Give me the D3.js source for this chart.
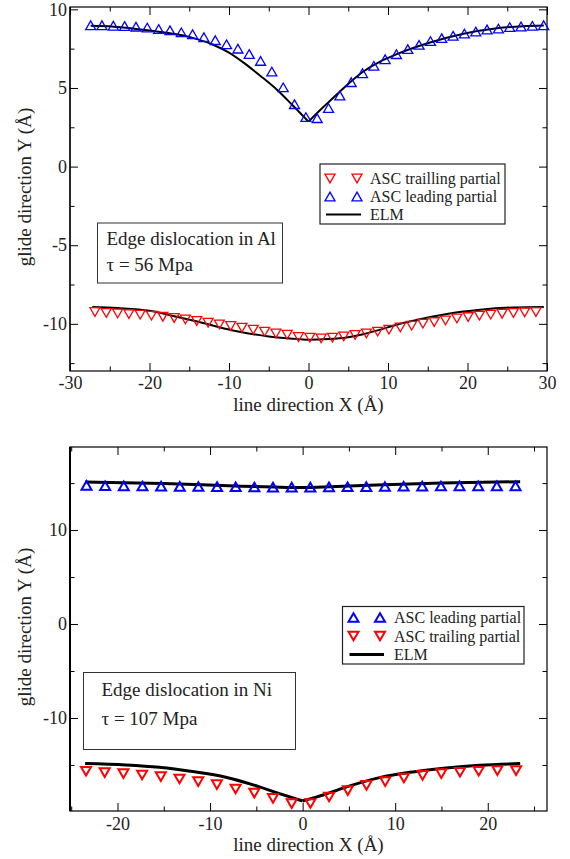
<!DOCTYPE html>
<html>
<head>
<meta charset="utf-8">
<script src="https://cdn.jsdelivr.net/npm/d3@7"></script>
<style>
body { margin: 0; background: #fff; }
svg text { font-family: "Liberation Serif", "Times New Roman", serif; fill: #222; }
</style>
</head>
<body>
<svg id="chart" width="570" height="859"></svg>
<script>
/*
data
*/
// Al, tau = 56 Mpa
var al_lead_x = [-27.4, -25.98, -24.55, -23.13, -21.7, -20.28, -18.85, -17.43, -16.0, -14.58, -13.16, -11.73, -10.31, -8.88, -7.46, -6.03, -4.61, -3.18, -1.76, -0.33, 1.09, 2.52, 3.94, 5.37, 6.79, 8.22, 9.64, 11.06, 12.49, 13.91, 15.34, 16.76, 18.19, 19.61, 21.04, 22.46, 23.89, 25.31, 26.73, 28.16, 29.58];
var al_lead_y = [8.99, 8.99, 8.96, 8.94, 8.90, 8.84, 8.75, 8.67, 8.54, 8.42, 8.23, 8.04, 7.78, 7.50, 7.16, 6.72, 6.04, 5.04, 3.97, 3.15, 3.08, 3.72, 4.52, 5.37, 5.94, 6.41, 6.83, 7.15, 7.47, 7.74, 7.98, 8.17, 8.32, 8.46, 8.59, 8.72, 8.78, 8.87, 8.91, 8.95, 8.99];
var al_trail_x = [-26.86, -25.44, -24.01, -22.59, -21.17, -19.75, -18.32, -16.9, -15.48, -14.06, -12.63, -11.21, -9.79, -8.37, -6.95, -5.52, -4.1, -2.68, -1.26, 0.17, 1.59, 3.01, 4.43, 5.86, 7.28, 8.7, 10.12, 11.55, 12.97, 14.39, 15.81, 17.23, 18.66, 20.08, 21.5, 22.92, 24.35, 25.77, 27.19, 28.61];
var al_trail_y = [-9.25, -9.31, -9.34, -9.38, -9.42, -9.48, -9.55, -9.63, -9.72, -9.82, -9.93, -10.04, -10.14, -10.25, -10.37, -10.5, -10.61, -10.69, -10.84, -10.88, -10.93, -10.88, -10.8, -10.71, -10.61, -10.5, -10.37, -10.23, -10.12, -9.99, -9.89, -9.78, -9.66, -9.57, -9.48, -9.42, -9.36, -9.31, -9.27, -9.25];
var al_elm_lead_x = [-27.4, -24.5, -20, -15, -12, -10, -8, -6, -4, -2, 0, 1.9, 3.9, 6.9, 9, 11.1, 15.3, 19.5, 23.7, 27, 29.6];
var al_elm_lead_y = [8.95, 8.9, 8.65, 8.25, 7.75, 7.25, 6.55, 5.75, 4.9, 3.9, 2.86, 3.8, 4.75, 6.05, 6.68, 7.15, 7.89, 8.45, 8.8, 8.93, 8.97];
var al_elm_trail_x = [-27.2, -24, -20, -17, -14, -9.5, -5, -2.3, 0, 2.5, 4.8, 7, 9, 11, 13.2, 15.5, 17.4, 19.5, 21.6, 25.8, 29.6];
var al_elm_trail_y = [-8.93, -9.0, -9.17, -9.5, -9.85, -10.42, -10.8, -10.93, -11.01, -10.97, -10.87, -10.65, -10.37, -10.07, -9.8, -9.55, -9.38, -9.22, -9.1, -8.96, -8.93];
var al_xticks = [-30, -20, -10, 0, 10, 20, 30];
var al_xminor = [-25, -15, -5, 5, 15, 25];
var al_yticks = [-10, -5, 0, 5, 10];
var al_yminor = [-12.5, -7.5, -2.5, 2.5, 7.5];

// Ni, tau = 107 Mpa
var ni_lead_x = [-23.35, -21.33, -19.32, -17.3, -15.29, -13.27, -11.26, -9.24, -7.23, -5.21, -3.2, -1.18, 0.83, 2.85, 4.86, 6.88, 8.89, 10.91, 12.92, 14.94, 16.95, 18.97, 20.98, 23.0];
var ni_lead_y = [14.75, 14.72, 14.71, 14.69, 14.68, 14.65, 14.64, 14.62, 14.61, 14.58, 14.57, 14.57, 14.57, 14.59, 14.61, 14.63, 14.64, 14.66, 14.68, 14.69, 14.7, 14.71, 14.71, 14.71];
var ni_trail_x = [-23.4, -21.38, -19.36, -17.34, -15.32, -13.3, -11.28, -9.26, -7.24, -5.22, -3.2, -1.18, 0.84, 2.86, 4.88, 6.9, 8.92, 10.94, 12.96, 14.98, 17.0, 19.02, 21.04, 23.06];
var ni_trail_y = [-15.67, -15.81, -15.92, -16.07, -16.24, -16.49, -16.77, -17.09, -17.56, -18.0, -18.55, -19.12, -19.1, -18.41, -17.74, -17.18, -16.77, -16.39, -16.1, -15.92, -15.78, -15.67, -15.6, -15.6];
var ni_elm_lead_x = [-23.5, -15, -8, -3, 0, 3, 8, 15, 23.5];
var ni_elm_lead_y = [15.12, 14.95, 14.72, 14.57, 14.52, 14.6, 14.8, 15.0, 15.15];
var ni_elm_trail_x = [-23.5, -19.1, -15.5, -11.9, -8.3, -4.75, -2.5, 0, 2.5, 4.75, 8.3, 11.9, 15.5, 19.1, 23.5];
var ni_elm_trail_y = [-14.85, -15.0, -15.25, -15.7, -16.3, -17.3, -18.05, -18.84, -18.1, -17.34, -16.35, -15.74, -15.32, -15.03, -14.85];
var ni_xticks = [-20, -10, 0, 10, 20];
var ni_xminor = [-25, -15, -5, 5, 15, 25];
var ni_yticks = [-10, 0, 10];
var ni_yminor = [-15, -5, 5, 15];

var svg = d3.select("#chart");
var RED = "#ff0000", BLUE = "#0000ff";

function zip(xs, ys){
	var out = [];
	for (var i = 0; i < xs.length; i++){
		out.push([xs[i], ys[i]]);
	}
	return out;
}

// triangle marker, bbox centred on the point
function tri(cx, cy, w, up){
	var hw = w/2, hh = w*0.866/2;
	if (up){
		return "M"+cx+","+(cy-hh)+"L"+(cx+hw)+","+(cy+hh)+"L"+(cx-hw)+","+(cy+hh)+"Z";
	}
	return "M"+cx+","+(cy+hh)+"L"+(cx+hw)+","+(cy-hh)+"L"+(cx-hw)+","+(cy-hh)+"Z";
}

function draw_panel(p){
	var g = svg.append("g");
	var x = d3.scaleLinear().domain(p.xdom).range([p.left, p.right]);
	var y = d3.scaleLinear().domain(p.ydom).range([p.bottom, p.top]);
	var fmt = function(d){ return String(d); };

	function style_axis(sel){
		sel.select(".domain").remove();
		sel.selectAll("line").attr("stroke", "#000").attr("stroke-width", 1);
		sel.selectAll("text").attr("font-size", 18).attr("fill", "#222");
		sel.attr("font-family", null).attr("font-size", null);
	}

	// major + minor ticks, all four sides, pointing inward
	g.append("g").attr("transform", "translate(0," + p.bottom + ")")
		.call(d3.axisBottom(x).tickValues(p.xticks).tickSize(-8).tickPadding(p.xpad).tickFormat(fmt)).call(style_axis);
	g.append("g").attr("transform", "translate(0," + p.bottom + ")")
		.call(d3.axisBottom(x).tickValues(p.xminor).tickSize(-4.5).tickFormat("")).call(style_axis);
	g.append("g").attr("transform", "translate(0," + p.top + ")")
		.call(d3.axisTop(x).tickValues(p.xticks).tickSize(-8).tickFormat("")).call(style_axis);
	g.append("g").attr("transform", "translate(0," + p.top + ")")
		.call(d3.axisTop(x).tickValues(p.xminor).tickSize(-4.5).tickFormat("")).call(style_axis);
	g.append("g").attr("transform", "translate(" + p.left + ",0)")
		.call(d3.axisLeft(y).tickValues(p.yticks).tickSize(-8).tickPadding(3).tickFormat(fmt)).call(style_axis);
	g.append("g").attr("transform", "translate(" + p.left + ",0)")
		.call(d3.axisLeft(y).tickValues(p.yminor).tickSize(-4.5).tickFormat("")).call(style_axis);
	g.append("g").attr("transform", "translate(" + p.right + ",0)")
		.call(d3.axisRight(y).tickValues(p.yticks).tickSize(-8).tickFormat("")).call(style_axis);
	g.append("g").attr("transform", "translate(" + p.right + ",0)")
		.call(d3.axisRight(y).tickValues(p.yminor).tickSize(-4.5).tickFormat("")).call(style_axis);

	// frame
	g.append("rect")
		.attr("x", p.left).attr("y", p.top)
		.attr("width", p.right - p.left).attr("height", p.bottom - p.top)
		.attr("fill", "none").attr("stroke", "#000").attr("stroke-width", 1.2);
	g.append("line")
		.attr("x1", p.left).attr("x2", p.left).attr("y1", p.top).attr("y2", p.bottom)
		.attr("stroke", "#000").attr("stroke-width", p.leftw);

	// axis titles
	g.append("text").attr("x", (p.left + p.right)/2).attr("y", p.xtitle_y)
		.attr("text-anchor", "middle").attr("font-size", 19)
		.text("line direction X (\u00c5)");
	g.append("text")
		.attr("transform", "translate(31," + ((p.top + p.bottom)/2 - 2) + ") rotate(-90)")
		.attr("text-anchor", "middle").attr("font-size", 19)
		.text("glide direction Y (\u00c5)");

	// ELM curves
	var line = d3.line()
		.x(function(d){ return x(d[0]); })
		.y(function(d){ return y(d[1]); })
		.curve(d3.curveMonotoneX);
	p.elm.forEach(function(c){
		var pts = zip(c.x, c.y);
		var parts = [pts];
		if (c.kink){
			// sharp V at the minimum
			var k = d3.minIndex(pts, function(d){ return d[1]; });
			parts = [pts.slice(0, k + 1), pts.slice(k)];
		}
		parts.forEach(function(part){
			g.append("path").datum(part)
				.attr("d", line)
				.attr("fill", "none").attr("stroke", "#000")
				.attr("stroke-width", p.elmw).attr("stroke-linejoin", "round");
		});
	});

	// ASC markers
	p.series.forEach(function(s){
		g.append("g").selectAll("path")
			.data(zip(s.x, s.y))
			.enter().append("path")
			.attr("d", function(d){ return tri(x(d[0]), y(d[1]), p.msize, s.up); })
			.attr("fill", "none").attr("stroke", s.color).attr("stroke-width", p.mstroke);
	});

	// legend
	var lg = p.legend;
	g.append("rect").attr("x", lg.x).attr("y", lg.y).attr("width", lg.w).attr("height", lg.h)
		.attr("fill", "#fff").attr("stroke", "#222").attr("stroke-width", 1.2);
	lg.rows.forEach(function(r, i){
		var cy = lg.y + lg.first + i*lg.step;
		if (r.kind == "line"){
			g.append("line").attr("x1", lg.s1 - 4).attr("x2", lg.s2 + 4).attr("y1", cy).attr("y2", cy)
				.attr("stroke", "#000").attr("stroke-width", p.elmw);
		}else{
			[lg.s1, lg.s2].forEach(function(sx){
				g.append("path").attr("d", tri(sx, cy, p.msize, r.up))
					.attr("fill", "none").attr("stroke", r.color).attr("stroke-width", p.mstroke);
			});
		}
		g.append("text").attr("x", lg.tx).attr("y", cy + 5.5).attr("font-size", 16).text(r.label);
	});

	// note box
	var nb = p.note;
	g.append("rect").attr("x", nb.x).attr("y", nb.y).attr("width", nb.w).attr("height", nb.h)
		.attr("fill", "#fff").attr("stroke", "#333").attr("stroke-width", 1);
	g.append("text").attr("x", nb.tx).attr("y", nb.l1).attr("font-size", 19).text(nb.t1);
	g.append("text").attr("x", nb.tx).attr("y", nb.l2).attr("font-size", 19).text(nb.t2);
}

draw_panel({
	left: 70, right: 547, top: 7, bottom: 371,
	xdom: [-30, 30], ydom: [-13, 10.15],
	xticks: al_xticks, xminor: al_xminor, yticks: al_yticks, yminor: al_yminor,
	xpad: 5, xtitle_y: 411, leftw: 1.2,
	elmw: 2, msize: 10, mstroke: 1.3,
	elm: [
		{x: al_elm_lead_x, y: al_elm_lead_y, kink: true},
		{x: al_elm_trail_x, y: al_elm_trail_y, kink: false}
	],
	series: [
		{x: al_lead_x, y: al_lead_y, color: BLUE, up: true},
		{x: al_trail_x, y: al_trail_y, color: RED, up: false}
	],
	legend: {x: 320, y: 164, w: 185, h: 60, first: 14.5, step: 18, s1: 330, s2: 357, tx: 370,
		rows: [
			{label: "ASC trailling partial", color: RED, up: false},
			{label: "ASC leading partial", color: BLUE, up: true},
			{label: "ELM", kind: "line"}
		]},
	note: {x: 97.5, y: 223, w: 185, h: 60, tx: 106.5, l1: 245, l2: 271,
		t1: "Edge dislocation in Al", t2: "\u03c4 = 56 Mpa"}
});

draw_panel({
	left: 70, right: 547, top: 447, bottom: 811,
	xdom: [-25.13, 26.4], ydom: [-19.9, 18.84],
	xticks: ni_xticks, xminor: ni_xminor, yticks: ni_yticks, yminor: ni_yminor,
	xpad: 6, xtitle_y: 851, leftw: 2,
	elmw: 3, msize: 10, mstroke: 2,
	elm: [
		{x: ni_elm_lead_x, y: ni_elm_lead_y, kink: false},
		{x: ni_elm_trail_x, y: ni_elm_trail_y, kink: true}
	],
	series: [
		{x: ni_lead_x, y: ni_lead_y, color: BLUE, up: true},
		{x: ni_trail_x, y: ni_trail_y, color: RED, up: false}
	],
	legend: {x: 342.5, y: 606.5, w: 181.5, h: 57.5, first: 11, step: 18.5, s1: 353.5, s2: 380, tx: 394,
		rows: [
			{label: "ASC leading partial", color: BLUE, up: true},
			{label: "ASC trailing partial", color: RED, up: false},
			{label: "ELM", kind: "line"}
		]},
	note: {x: 83.5, y: 672.5, w: 212, h: 77, tx: 101.5, l1: 696, l2: 725,
		t1: "Edge dislocation in Ni", t2: "\u03c4 = 107 Mpa"}
});
</script>
</body>
</html>
